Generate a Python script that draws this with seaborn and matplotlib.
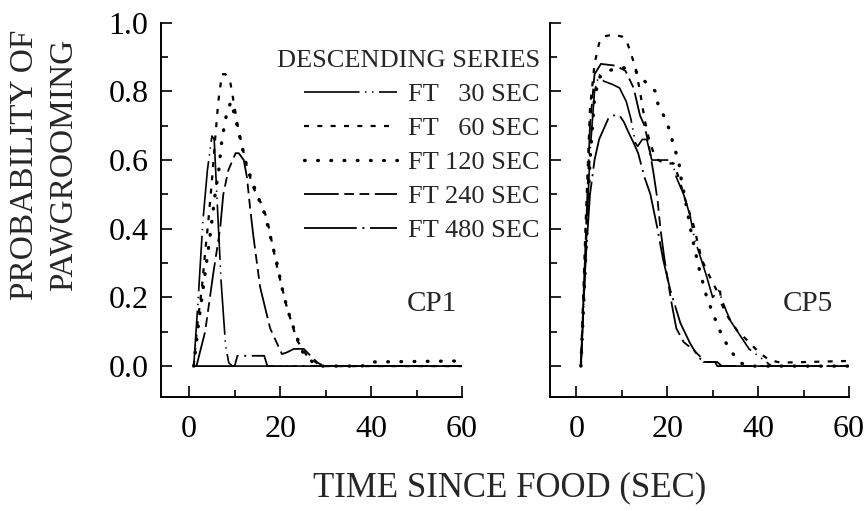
import matplotlib
matplotlib.use("Agg")
import matplotlib.pyplot as plt
from matplotlib.ticker import MultipleLocator
import seaborn as sns

# ---- data (time in s, probability) ----
# CP1
cp1_t30 = [1, 2, 3, 4, 5, 5.5, 6, 7, 8, 8.7, 9.5, 60]
cp1_p30 = [0, 0.2, 0.42, 0.57, 0.67, 0.66, 0.52, 0.25, 0.06, 0.01, 0, 0]
cp1_t60 = [1, 1.7, 2.8, 3.5, 4.2, 5, 5.7, 6.4, 7.2, 8, 9, 10.8, 12.7, 14.1, 15.6,
           17.1, 19.3, 21.5, 23.7, 25.9, 27, 28, 29, 60]
cp1_p60 = [0, 0.11, 0.23, 0.33, 0.42, 0.54, 0.66, 0.77, 0.85, 0.85, 0.83, 0.69, 0.58,
           0.52, 0.48, 0.43, 0.29, 0.17, 0.076, 0.03, 0.02, 0.01, 0, 0]
cp1_t120 = [1, 2.1, 3.5, 4.6, 5.7, 6.5, 7.2, 8.3, 9.2, 10.2, 11.6, 12.7, 14.9, 16.7,
            17.8, 19.3, 20.7, 22.2, 23.8, 25, 26.5, 28, 38, 40, 60]
cp1_p120 = [0, 0.13, 0.27, 0.38, 0.5, 0.57, 0.66, 0.74, 0.77, 0.72, 0.64, 0.58, 0.5,
            0.44, 0.38, 0.3, 0.21, 0.14, 0.08, 0.04, 0.02, 0, 0, 0.012, 0.015]
cp1_t240 = [1.6, 3.5, 5.3, 6.8, 7.5, 8.6, 10.2, 10.9, 12, 12.7, 13.4, 14.1, 15.6,
            17.8, 20.4, 21.5, 23, 25.2, 26.7, 28.2, 29.7, 60]
cp1_p240 = [0, 0.1, 0.27, 0.4, 0.5, 0.57, 0.62, 0.62, 0.6, 0.55, 0.46, 0.38, 0.23,
            0.11, 0.035, 0.04, 0.05, 0.05, 0.03, 0.01, 0, 0]
cp1_t480 = [1, 10, 10.6, 16.5, 17.2, 60]
cp1_p480 = [0, 0, 0.03, 0.03, 0, 0]

# CP5
cp5_t30 = [1, 2, 3, 4, 5, 6, 8, 9.5, 11, 12, 13, 13.5, 14.5, 15.5, 16.6, 21, 22,
           23.6, 25, 26, 27, 28.7, 30, 31.3, 33, 34, 36, 38, 40, 42, 43, 60]
cp5_p30 = [0, 0.3, 0.62, 0.8, 0.85, 0.83, 0.82, 0.81, 0.77, 0.72, 0.65, 0.64, 0.66,
           0.66, 0.6, 0.6, 0.55, 0.5, 0.44, 0.37, 0.33, 0.26, 0.2, 0.22, 0.16, 0.13,
           0.09, 0.05, 0.03, 0.01, 0, 0]
cp5_t60 = [1, 2, 3, 4, 5, 6, 8, 10, 11, 12, 13, 14, 15, 16, 17, 18, 19.5, 21.4,
           22.5, 23.6, 25.8, 27.6, 29, 30.9, 31.5, 32, 33.5, 35.3, 38.2, 40.4, 42.6,
           45, 60]
cp5_p60 = [0, 0.4, 0.75, 0.88, 0.94, 0.96, 0.965, 0.96, 0.95, 0.91, 0.87, 0.8, 0.72,
           0.66, 0.62, 0.6, 0.59, 0.59, 0.55, 0.5, 0.41, 0.31, 0.27, 0.22, 0.23, 0.18,
           0.14, 0.105, 0.067, 0.037, 0.017, 0.01, 0.015]
cp5_t120 = [1, 2, 3, 4, 5, 7, 10, 13, 15, 17.4, 18, 19.6, 20.7, 21.4, 22.5, 23,
            23.6, 25.4, 26.9, 28.7, 30.9, 32, 33.8, 36, 38, 60]
cp5_p120 = [0, 0.3, 0.6, 0.78, 0.84, 0.86, 0.87, 0.86, 0.83, 0.8, 0.76, 0.72, 0.68,
            0.64, 0.6, 0.55, 0.51, 0.38, 0.29, 0.2, 0.125, 0.09, 0.047, 0.01, 0, 0]
cp5_t240 = [1, 2, 3, 4, 5.4, 8.6, 10.8, 12.6, 13.3, 14, 15, 16, 17, 17.9, 18.5,
            19.3, 20, 21, 22, 23.6, 25.8, 27.3, 28, 31, 32, 60]
cp5_p240 = [0, 0.35, 0.7, 0.85, 0.88, 0.875, 0.86, 0.81, 0.77, 0.73, 0.7, 0.64, 0.56,
            0.48, 0.4, 0.32, 0.26, 0.18, 0.11, 0.07, 0.047, 0.027, 0.012, 0.012, 0, 0]
cp5_t480 = [1, 2, 3, 4, 5, 7, 8, 9.5, 10.5, 11.5, 12.6, 13.6, 14, 15, 16.3, 17.7,
            19.1, 20.7, 22.9, 25, 26.8, 28, 30.5, 31, 60]
cp5_p480 = [0, 0.3, 0.5, 0.6, 0.66, 0.72, 0.73, 0.73, 0.71, 0.68, 0.65, 0.62, 0.6,
            0.55, 0.5, 0.41, 0.31, 0.22, 0.125, 0.067, 0.027, 0.012, 0.012, 0, 0]

series_labels = ["FT   30 SEC", "FT   60 SEC", "FT 120 SEC", "FT 240 SEC", "FT 480 SEC"]
cp1 = [(cp1_t30, cp1_p30), (cp1_t60, cp1_p60), (cp1_t120, cp1_p120),
       (cp1_t240, cp1_p240), (cp1_t480, cp1_p480)]
cp5 = [(cp5_t30, cp5_p30), (cp5_t60, cp5_p60), (cp5_t120, cp5_p120),
       (cp5_t240, cp5_p240), (cp5_t480, cp5_p480)]

# line styles (points, not scaled by width)
styles = [
    dict(linestyle=(0, (40, 4, 1, 4, 1, 4)), lw=1.2),
    dict(linestyle=(0, (3.6, 6)), lw=1.6),
    dict(linestyle=(0, (0.5, 9)), lw=2.4, dash_capstyle="round"),
    dict(linestyle=(0, (25, 4, 7, 4, 7, 4)), lw=1.3),
    dict(linestyle=(0, (38, 4, 1.5, 4)), lw=1.3),
]

sns.set_style("ticks")
plt.rcParams["font.family"] = ["Liberation Serif", "DejaVu Serif"]
plt.rcParams["lines.scale_dashes"] = False

FS_TICK = 23
FS_LAB = 24
FS_LEG = 19
W, H = 866, 511
fig = plt.figure(figsize=(W / 100, H / 100), dpi=100)
ax1 = fig.add_axes([161 / W, 1 - 397 / H, 301 / W, 374.3 / H])
ax2 = fig.add_axes([550 / W, 1 - 397 / H, 299 / W, 374.3 / H])

for ax, panel, name, name_x in [(ax1, cp1, "CP1", 53.4), (ax2, cp5, "CP5", 51)]:
    for (t, p), st in zip(panel, styles):
        sns.lineplot(x=t, y=p, ax=ax, color="black", estimator=None, sort=False, **st)
    ax.set_ylim(-0.09, 1.0)
    ax.set_xlim(-6.2, 60)
    ax.xaxis.set_major_locator(MultipleLocator(20))
    ax.xaxis.set_minor_locator(MultipleLocator(10))
    ax.yaxis.set_major_locator(MultipleLocator(0.2))
    ax.yaxis.set_minor_locator(MultipleLocator(0.1))
    ax.tick_params(which="both", direction="in", width=1.2, color="black",
                   labelsize=FS_TICK, labelcolor="black")
    ax.tick_params(which="major", length=8)
    ax.tick_params(which="minor", length=5)
    ax.tick_params(axis="x", pad=13)
    ax.tick_params(axis="y", pad=9)
    for s in ["top", "right"]:
        ax.spines[s].set_visible(False)
    for s in ["left", "bottom"]:
        ax.spines[s].set_linewidth(1.4)
        ax.spines[s].set_color("black")
    ax.set_xlabel("")
    ax.set_ylabel("")
    ax.text(name_x, 0.18, name, fontsize=21, ha="center", va="center")

ax1.yaxis.set_major_formatter(plt.FuncFormatter(lambda v, _: f"{v:.1f}"))
ax2.tick_params(axis="y", labelleft=False)
ax2.set_xlim(-5.8, 60)

handles = ax1.get_lines()[:5]
fig.legend(handles, series_labels, title="DESCENDING SERIES", loc="upper right",
           bbox_to_anchor=(540 / W, 1 - 50 / H), frameon=False, fontsize=FS_LEG,
           title_fontsize=FS_LEG, handlelength=3.55, handletextpad=0.42,
           labelspacing=0.4, borderpad=0, borderaxespad=0, alignment="right")

fig.text(44 / W, 1 - 165 / H, "PROBABILITY OF\nPAWGROOMING", rotation=90,
         fontsize=FS_LAB, ha="center", va="center", multialignment="center",
         linespacing=1.37)
fig.text(510 / W, 1 - 488 / H, "TIME SINCE FOOD (SEC)", fontsize=25,
         ha="center", va="center")

fig.savefig("out.png", dpi=100, facecolor="white")
